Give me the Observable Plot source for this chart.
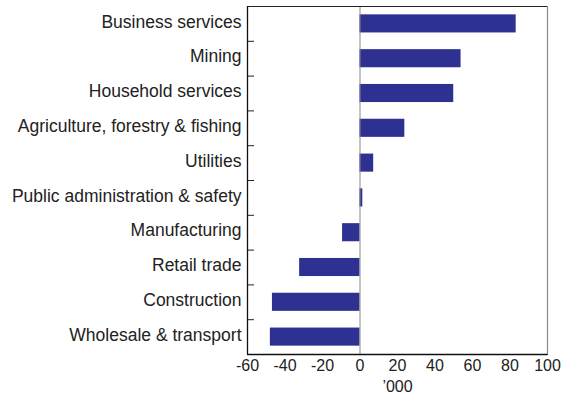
<!DOCTYPE html>
<html>
<head>
<meta charset="utf-8">
<script src="https://cdn.jsdelivr.net/npm/d3@7"></script>
<script src="https://cdn.jsdelivr.net/npm/@observablehq/plot@0.6"></script>
<style>
  html, body { margin: 0; padding: 0; background: #fff; }
  svg { font-family: "Liberation Sans", Arial, sans-serif; }
</style>
</head>
<body>
<div id="chart"></div>
<script>
const categories = [
  "Business services",
  "Mining",
  "Household services",
  "Agriculture, forestry & fishing",
  "Utilities",
  "Public administration & safety",
  "Manufacturing",
  "Retail trade",
  "Construction",
  "Wholesale & transport"
];
const values = [83.3, 53.9, 50.0, 23.9, 7.3, 1.5, -9.3, -32.2, -46.7, -47.8];
const xTicks = [-60, -40, -20, 0, 20, 40, 60, 80, 100];
const xLabel = "\u2019000";

const data = categories.map((c, i) => ({category: c, value: values[i]}));

const W = 571, H = 400;
const mL = 247, mR = 24, mT = 6, mB = 46;
const plotW = W - mL - mR;
const halfStep = (H - mT - mB) / categories.length / 2;
const barColor = "#2e3192";
const ink = "#222";

const chart = Plot.plot({
  width: W,
  height: H,
  marginLeft: mL,
  marginRight: mR,
  marginTop: mT,
  marginBottom: mB,
  style: {fontFamily: "'Liberation Sans', Arial, sans-serif", color: ink, background: "#fff"},
  x: {domain: [-60, 100], ticks: xTicks},
  y: {domain: categories, paddingInner: 0.48, paddingOuter: 0.24, round: false},
  marks: [
    Plot.barX(data, {y: "category", x: "value", fill: barColor}),
    Plot.ruleX([0], {stroke: "#888", strokeWidth: 1}),
    // inward x ticks
    Plot.tickX(xTicks, {x: d => d, y: categories[categories.length - 1], insetTop: 2 * halfStep - 5, stroke: ink}),
    // inward y separator ticks
    Plot.ruleY(categories.slice(1), {y: d => d, dy: -halfStep, insetRight: plotW - 7, stroke: ink}),
    Plot.frame({stroke: ink, strokeWidth: 1}),
    Plot.ruleX([100], {stroke: "#888", strokeWidth: 1.2}),
    Plot.ruleX([-60], {stroke: "#111", strokeWidth: 1.3}),
    Plot.ruleY([categories[categories.length - 1]], {dy: halfStep, stroke: "#111", strokeWidth: 1.3}),
    Plot.axisX({ticks: xTicks, tickSize: 0, tickPadding: 5, fontSize: 16, label: null, tickFormat: d => String(d)}),
    Plot.axisY({tickSize: 0, tickPadding: 6, fontSize: 17.5, dy: -2, label: null}),
    Plot.text([xLabel], {frameAnchor: "bottom", dy: 37, fontSize: 16, fill: ink})
  ]
});
document.getElementById("chart").appendChild(chart);
</script>
</body>
</html>
